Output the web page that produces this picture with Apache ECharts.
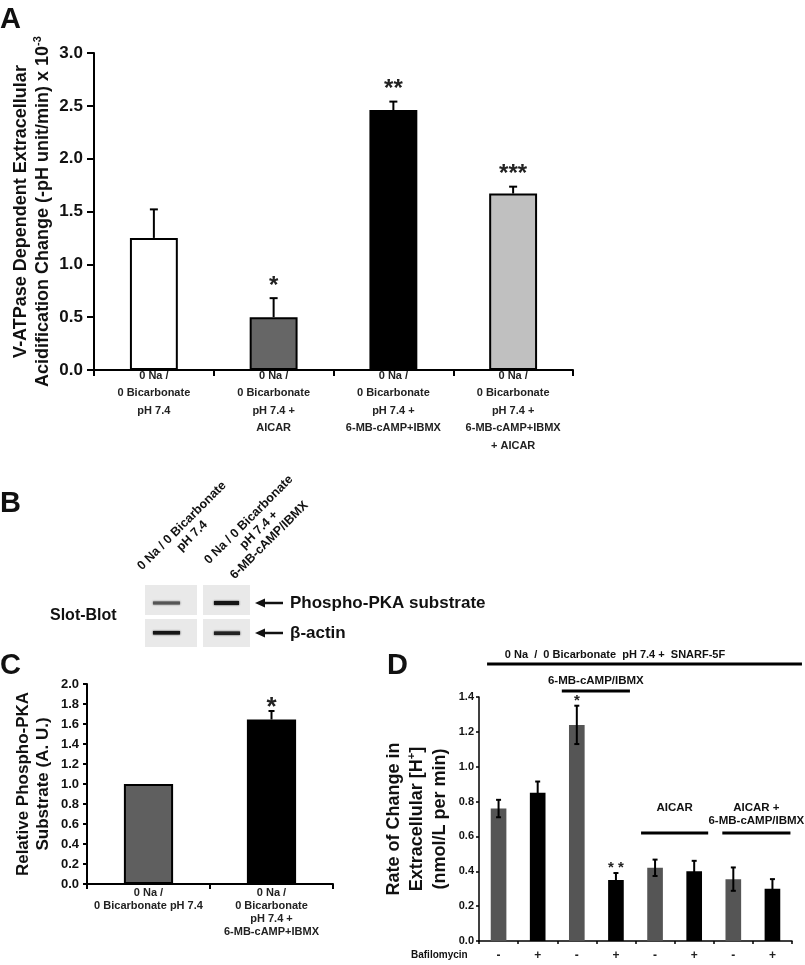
<!DOCTYPE html>
<html><head><meta charset="utf-8">
<script src="https://cdn.jsdelivr.net/npm/echarts@6/dist/echarts.min.js"></script>
<style>html,body{margin:0;padding:0;background:#fff}#c{width:805px;height:965px}</style>
</head><body><div id="c"></div>
<script>
// ---------- Panel A data ----------
const aCategories = ['0 Na /\n0 Bicarbonate\npH 7.4', '0 Na /\n0 Bicarbonate\npH 7.4 +\nAICAR', '0 Na /\n0 Bicarbonate\npH 7.4 +\n6-MB-cAMP+IBMX', '0 Na /\n0 Bicarbonate\npH 7.4 +\n6-MB-cAMP+IBMX\n+ AICAR'];
const aValues = [1.25, 0.50, 2.46, 1.67];
const aErrors = [0.27, 0.18, 0.08, 0.065];
const aSig = ['', '*', '**', '***'];
const aColors = ['#ffffff', '#666666', '#000000', '#c0c0c0'];
// ---------- Panel C data ----------
const cCategories = ['0 Na /\n0 Bicarbonate pH 7.4', '0 Na /\n0 Bicarbonate\npH 7.4 +\n6-MB-cAMP+IBMX'];
const cValues = [1.0, 1.645];
const cErrors = [0, 0.085];
const cSig = ['', '*'];
const cColors = ['#5f5f5f', '#000000'];
// ---------- Panel D data ----------
const dCategories = ['-', '+', '-', '+', '-', '+', '-', '+'];
const dValues = [0.76, 0.85, 1.24, 0.35, 0.42, 0.40, 0.355, 0.30];
const dErrors = [0.05, 0.065, 0.11, 0.04, 0.047, 0.06, 0.067, 0.055];
const dSig = ['', '', '*', '* *', '', '', '', ''];
const dColors = ['#555555', '#000000', '#555555', '#000000', '#555555', '#000000', '#555555', '#000000'];
const dHeader = '0 Na  /  0 Bicarbonate  pH 7.4 +  SNARF-5F';
const dGroups = [
  {text: '6-MB-cAMP/IBMX', from: 2, to: 3},
  {text: 'AICAR', from: 4, to: 5},
  {text: 'AICAR +\n6-MB-cAMP/IBMX', from: 6, to: 7}
];
// ---------- Panel B labels ----------
const bLanes = ['0 Na / 0 Bicarbonate\npH 7.4', '0 Na / 0 Bicarbonate\npH 7.4 +\n6-MB-cAMP/IBMX'];
const bRows = ['Phospho-PKA substrate', 'β-actin'];

const FONT = '"Liberation Sans", Arial, Helvetica, sans-serif';
const TXT = '#111';
const chart = echarts.init(document.getElementById('c'));

function errorSeries(idx, values, errors, sigs, o) {
  return {
    type: 'custom', xAxisIndex: idx, yAxisIndex: idx, z: 5, silent: true,
    data: values.map((v, i) => [i, v, errors[i]]),
    renderItem: (params, api) => {
      const i = api.value(0), v = api.value(1), e = api.value(2);
      const top = api.coord([i, v + e]);
      const bot = api.coord([i, o.both ? v - e : v]);
      const ch = [];
      const ls = {stroke: '#000', lineWidth: o.lw};
      if (e > 0) {
        ch.push({type: 'line', shape: {x1: top[0], y1: top[1], x2: bot[0], y2: bot[1]}, style: ls});
        ch.push({type: 'line', shape: {x1: top[0] - o.cap, y1: top[1], x2: top[0] + o.cap, y2: top[1]}, style: ls});
        if (o.both) ch.push({type: 'line', shape: {x1: bot[0] - o.cap, y1: bot[1], x2: bot[0] + o.cap, y2: bot[1]}, style: ls});
      }
      const s = sigs[params.dataIndex];
      if (s) ch.push({type: 'text', x: top[0], y: top[1] - o.sigOff,
        style: {text: s, fontSize: o.sigSize, fontWeight: 'bold', fontFamily: FONT, fill: '#222', align: 'center', verticalAlign: 'middle'}});
      return {type: 'group', children: ch};
    }
  };
}

function catAxis(idx, data, o) {
  return {
    gridIndex: idx, type: 'category', data: data,
    axisLine: {show: true, lineStyle: {color: '#000', width: o.lw}},
    axisTick: {show: o.tick > 0, length: o.tick, alignWithLabel: false, lineStyle: {color: '#000', width: o.lw}},
    axisLabel: {interval: 0, fontSize: o.fs, fontWeight: 'bold', color: '#222', lineHeight: o.lh, margin: o.margin, fontFamily: FONT},
    splitLine: {show: false}
  };
}
function valAxis(idx, max, interval, o) {
  return {
    gridIndex: idx, type: 'value', min: 0, max: max, interval: interval,
    axisLine: {show: true, lineStyle: {color: '#000', width: o.lw}},
    axisTick: {show: true, length: o.tick, lineStyle: {color: '#000', width: o.lw}},
    axisLabel: {formatter: v => v.toFixed(1), fontSize: o.fs, fontWeight: 'bold', color: TXT, margin: o.margin, fontFamily: FONT},
    splitLine: {show: false},
    name: o.name, nameLocation: 'middle', nameRotate: 90, nameGap: o.nameGap, nameMoveOverlap: false,
    nameTextStyle: {fontSize: o.nfs, fontWeight: o.nfw, color: TXT, lineHeight: o.nlh, fontFamily: FONT, align: 'center',
      rich: {sup: {fontSize: Math.round(o.nfs * 0.6), fontWeight: o.nfw, color: TXT, verticalAlign: 'top', lineHeight: o.nlh, fontFamily: FONT}}}
  };
}

const option = {
  animation: false,
  textStyle: {fontFamily: FONT},
  grid: [
    {left: 94, top: 53, width: 479, height: 317, outerBoundsMode: 'none', containLabel: false},
    {left: 87, top: 684, width: 246, height: 200, outerBoundsMode: 'none', containLabel: false},
    {left: 479, top: 697, width: 313, height: 244, outerBoundsMode: 'none', containLabel: false}
  ],
  xAxis: [
    catAxis(0, aCategories, {lw: 2, tick: 6, fs: 11, lh: 17.5, margin: -3}),
    catAxis(1, cCategories, {lw: 2, tick: 5, fs: 11, lh: 13, margin: 2}),
    catAxis(2, dCategories, {lw: 1.5, tick: 3, fs: 12, lh: 14, margin: 8})
  ],
  yAxis: [
    valAxis(0, 3, 0.5, {lw: 2, tick: 7, fs: 17, margin: 11, nameGap: 40, nfs: 18, nfw: 'bold', nlh: 22,
      name: 'V-ATPase Dependent Extracellular\nAcidification Change (-pH unit/min) x 10{sup|-3}'}),
    valAxis(1, 2, 0.2, {lw: 2, tick: 4, fs: 13, margin: 8, nameGap: 34, nfs: 17, nfw: 'bold', nlh: 20,
      name: 'Relative Phospho-PKA\nSubstrate (A. U.)'}),
    valAxis(2, 1.4, 0.2, {lw: 1.5, tick: 3, fs: 11, margin: 5, nameGap: 27, nfs: 18, nfw: 'bold', nlh: 23,
      name: 'Rate of Change in\nExtracellular [H{sup|+}]\n(nmol/L per min)'})
  ],
  series: [
    {type: 'bar', xAxisIndex: 0, yAxisIndex: 0, barWidth: '40%',
      itemStyle: {borderColor: '#000', borderWidth: 2},
      data: aValues.map((v, i) => ({value: v, itemStyle: {color: aColors[i]}}))},
    errorSeries(0, aValues, aErrors, aSig, {lw: 2, cap: 4, both: false, sigSize: 24, sigOff: 12}),
    {type: 'bar', xAxisIndex: 1, yAxisIndex: 1, barWidth: '40%',
      itemStyle: {borderColor: '#000', borderWidth: 2},
      data: cValues.map((v, i) => ({value: v, itemStyle: {color: cColors[i]}}))},
    errorSeries(1, cValues, cErrors, cSig, {lw: 2, cap: 3, both: false, sigSize: 26, sigOff: 3}),
    {type: 'bar', xAxisIndex: 2, yAxisIndex: 2, barWidth: '40%',
      data: dValues.map((v, i) => ({value: v, itemStyle: {color: dColors[i]}}))},
    errorSeries(2, dValues, dErrors, dSig, {lw: 2, cap: 2.5, both: true, sigSize: 15, sigOff: 5})
  ]
};
chart.setOption(option);

// ---------- annotations / blot panel ----------
function T(text, x, y, o) {
  return {type: 'text', x: x, y: y, rotation: o.rot || 0, silent: true,
    style: {text: text, fontSize: o.fs, fontWeight: o.fw || 'bold', fontFamily: FONT, fill: o.fill || TXT,
      align: o.align || 'left', verticalAlign: o.va || 'middle', lineHeight: o.lh}};
}
const g = [];
// panel letters
g.push(T('A', 0, 20, {fs: 29}));
g.push(T('B', 0, 504, {fs: 29}));
g.push(T('C', 0, 666, {fs: 29}));
g.push(T('D', 387, 666, {fs: 29}));

// Panel B: rotated lane labels
g.push(T(bLanes[0], 187, 531, {fs: 12.5, lh: 14.5, align: 'center', rot: Math.PI / 4}));
g.push(T(bLanes[1], 259, 530, {fs: 12.5, lh: 14.5, align: 'center', rot: Math.PI / 4}));
// blot boxes
const boxes = [[145, 585, 52, 30], [203, 585, 47, 30], [145, 619, 52, 28], [203, 619, 47, 28]];
boxes.forEach(b => g.push({type: 'rect', silent: true, shape: {x: b[0], y: b[1], width: b[2], height: b[3]}, style: {fill: '#e9e9e9'}}));
const bands = [[153, 601.5, 27, 3, '#555'], [214, 601, 25, 4, '#151515'], [153, 631, 27, 3.5, '#151515'], [214, 631.5, 26, 3.5, '#222']];
bands.forEach(b => g.push({type: 'rect', silent: true, shape: {x: b[0], y: b[1], width: b[2], height: b[3]},
  style: {fill: b[4], shadowBlur: 2, shadowColor: b[4]}}));
// arrows + row labels
[603, 633].forEach((y, k) => {
  g.push({type: 'line', silent: true, shape: {x1: 263, y1: y, x2: 283, y2: y}, style: {stroke: '#111', lineWidth: 2.5}});
  g.push({type: 'polygon', silent: true, shape: {points: [[255, y], [265, y - 4.5], [265, y + 4.5]]}, style: {fill: '#111'}});
  g.push(T(bRows[k], 290, y, {fs: 17}));
});
g.push(T('Slot-Blot', 50, 616, {fs: 16}));

// Panel D annotations
const p = (i, v) => chart.convertToPixel({gridIndex: 2}, [i, v]);
const x0 = p(0, 0)[0] - 19.5, x1 = p(7, 0)[0] + 19.5;
g.push({type: 'rect', silent: true, shape: {x: x0 + 8, y: 662.5, width: x1 - x0 + 2, height: 3}, style: {fill: '#000'}});
g.push(T(dHeader, 615, 655, {fs: 11, align: 'center'}));
const gy = [691, 833, 833];
const pads = [[-15, 14], [-14, 14], [-11, 18]];
dGroups.forEach((gr, k) => {
  const xa = p(gr.from, 0)[0] + pads[k][0], xb = p(gr.to, 0)[0] + pads[k][1];
  g.push({type: 'rect', silent: true, shape: {x: xa, y: gy[k] - 1.5, width: xb - xa, height: 3}, style: {fill: '#000'}});
  const ty = k === 0 ? gy[k] - 10 : gy[k] - 25;
  g.push(T(gr.text, (xa + xb) / 2, ty, {fs: 11.5, lh: 13, align: 'center', va: k === 0 ? 'middle' : 'top', fill: TXT}));
});
g.forEach(e => { if (e.style && e.style.verticalAlign === 'top') e.y -= 6.5; });
g.push(T('Bafilomycin', 411, 955, {fs: 10}));

chart.setOption({graphic: g});
</script>
</body></html>
